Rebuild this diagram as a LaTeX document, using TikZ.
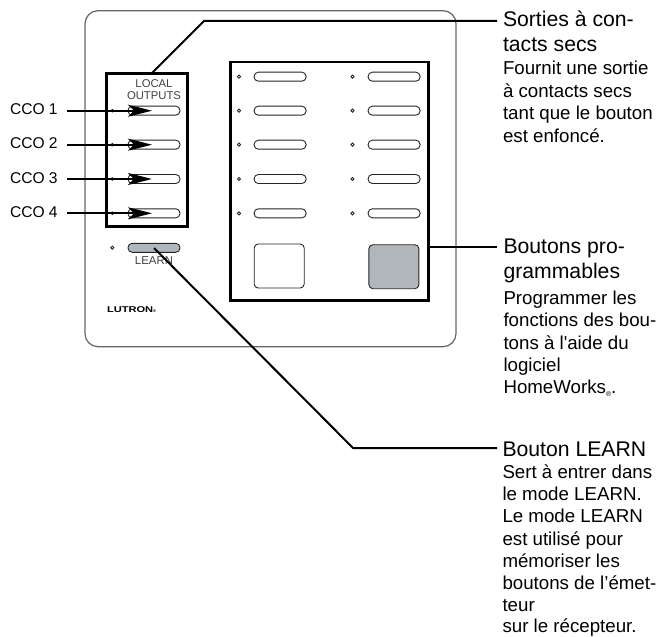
\documentclass[tikz,border=0pt]{standalone}
\usepackage{fontspec}
\usepackage{graphicx}
\setmainfont{Liberation Sans}
\newfontfamily\plainf{Liberation Sans}
\usetikzlibrary{arrows.meta}
\definecolor{keygray}{HTML}{B0B6BC}
\tikzset{
 x=1pt,y=-1pt,
 every node/.style={outer sep=0pt},
 leader/.style={line width=2pt,draw=black},
 framebox/.style={draw=black,line width=2.7pt,inner sep=0pt,anchor=north west},
 keybtn/.style={draw=black!85,line width=0.9pt,rounded corners=4.2pt,fill=white,minimum width=52pt,minimum height=9pt,inner sep=0pt},
 led/.style={draw=black!85,line width=0.9pt,circle,inner sep=0pt,minimum size=3.2pt,fill=white},
 bigkey/.style={draw=black!85,line width=0.9pt,rounded corners=4pt,minimum width=50pt,minimum height=44pt,inner sep=0pt},
 ccoarrow/.style={line width=2.1pt,-{Stealth[length=24pt,width=12pt,inset=6pt]}},
 big/.style={anchor=base west,font=\fontsize{21.2}{21.2}\selectfont,inner sep=0pt},
 small/.style={anchor=base west,font=\fontsize{18.7}{18.7}\selectfont,inner sep=0pt},
 cco/.style={anchor=base west,font=\fontsize{15.6}{15.6}\selectfont,inner sep=0pt},
 tiny/.style={anchor=base,font=\fontsize{11.3}{11.3}\selectfont,text=black!75,inner sep=0pt},
}
\begin{document}
\begin{tikzpicture}
\useasboundingbox (0,0) rectangle (660,636);
\draw[line width=1.2pt,draw=black!60,rounded corners=13pt] (85,10.7) rectangle (456,346.7);
% boxes
\node[framebox,minimum width=81pt,minimum height=153pt] (localbox) at (106.3,73.7) {};
\node[framebox,minimum width=198pt,minimum height=238.7pt] (bigbox) at (230.3,62) {};
\node[tiny] at (154,88) {LOCAL};
\node[tiny] at (154,99.7) {OUTPUTS};
% buttons
\foreach \n/\y in {a/110.7,b/144.7,c/179,d/213.3}{
  \node[keybtn] (l\n) at (154,\y) {};
  \node[led,minimum size=2.6pt] (ld\n) at (112.3,\y) {};
}
\foreach \n/\y in {a/76.7,b/110.7,c/144.7,d/179,e/213.3}{
  \node[keybtn] (p\n) at (280.1,\y) {};
  \node[led] (pd\n) at (239,\y) {};
  \node[keybtn] (q\n) at (394.1,\y) {};
  \node[led] (qd\n) at (352.5,\y) {};
}
\node[bigkey] (kw) at (279.2,266) {};
\node[bigkey,fill=keygray] (kg) at (393.9,266.7) {};
% learn
\node[led] (ldl) at (112.3,247.7) {};
\node[keybtn,fill=keygray] (learn) at (154,247.8) {};
\node[tiny] at (154,264) {\fontsize{11.4}{11.4}\selectfont LEARN};
\node[anchor=base west,inner sep=0pt,font=\bfseries\fontsize{8.4}{8.4}\selectfont] (lutron) at (107,312.5) {\scalebox{1.32}[1]{LUTRON}\raisebox{0pt}{\fontsize{4}{4}\selectfont®}};
% labels
\node[cco] (c1) at (10,115) {CCO 1};
\node[cco] (c2) at (10,149) {CCO 2};
\node[cco] (c3) at (10,183.5) {CCO 3};
\node[cco] (c4) at (10,218) {CCO 4};
\coordinate (a1) at (67,110.7);
\coordinate (a2) at (67,144.7);
\coordinate (a3) at (67,179);
\coordinate (a4) at (67,213.3);
\draw[ccoarrow] (a1) -- (152,110.7);
\draw[ccoarrow] (a2) -- (152,144.7);
\draw[ccoarrow] (a3) -- (152,179);
\draw[ccoarrow] (a4) -- (152,213.3);
% leaders
\coordinate (s1) at (152,73);
\coordinate (s2) at (204,21);
\coordinate (s3) at (497,21);
\coordinate (b3) at (497,247);
\coordinate (t0) at (154,248);
\coordinate (t1) at (353,448);
\coordinate (t2) at (497,448);
\draw[leader] (s1) -- (s2) -- (s3);
\draw[leader] (bigbox.east |- b3) -- (b3);
\draw[leader] (t0) -- (t1) -- (t2);
% text
\node[big] at (503,27) {Sorties à con-};
\node[big] at (503,52) {tacts secs};
\node[small] at (503,75) {Fournit une sortie};
\node[small] at (503,97.5) {à contacts secs};
\node[small] at (503,120) {tant que le bouton};
\node[small] at (503,142.5) {est enfoncé.};
\node[big] at (503.5,253) {Boutons pro-};
\node[big] at (503.5,278) {grammables};
\node[small] at (503.5,304) {Programmer les};
\node[small] at (503.5,326.5) {fonctions des bou-};
\node[small] at (503.5,349) {tons à l{\plainf '}aide du};
\node[small] at (503.5,371) {logiciel};
\node[small] at (503.5,393.5) {HomeWorks\raisebox{-2.5pt}{\fontsize{7}{7}\selectfont®}.};
\node[big] at (502.5,456) {Bouton LEARN};
\node[small] at (502.5,478) {Sert à entrer dans};
\node[small] at (502.5,500) {le mode LEARN.};
\node[small] at (502.5,522.5) {Le mode LEARN};
\node[small] at (502.5,545) {est utilisé pour};
\node[small] at (502.5,567) {mémoriser les};
\node[small] at (502.5,589) {boutons de l’émet-};
\node[small] at (502.5,611) {teur};
\node[small] at (502.5,632) {sur le récepteur.};
\end{tikzpicture}
\end{document}
